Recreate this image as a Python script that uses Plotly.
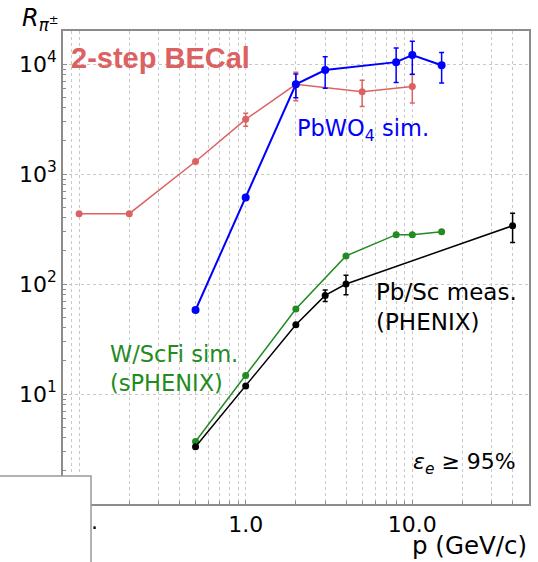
import plotly.graph_objects as go

# ---- data ----
p_becal = [0.1, 0.2, 0.5, 1.0, 2.0, 5.0, 10.0]
r_becal = [436, 436, 1300, 3140, 6530, 5600, 6230]
err_becal = [None, None, None, 430, 1900, 1500, 1800]

p_pbwo4 = [0.5, 1.0, 2.0, 3.0, 8.0, 10.0, 15.0]
r_pbwo4 = [58, 610, 6530, 8820, 10400, 12070, 9730]
err_pbwo4 = [None, None, 1600, 2800, 3600, 4000, 3000]

p_wscfi = [0.5, 1.0, 2.0, 4.0, 8.0, 10.0, 15.0]
r_wscfi = [3.7, 14.7, 59.3, 180, 281, 281, 299]

p_pbsc = [0.5, 1.0, 2.0, 3.0, 4.0, 40.0]
r_pbsc = [3.32, 11.8, 42.7, 78.8, 100, 339]
err_pbsc = [None, None, None, 9.6, 20, 100]

x_tickvals = [0.1, 1.0, 10.0]
x_ticktext = ["", "1.0", "10.0"]
y_tickvals = [1, 10, 100, 1000, 10000]
y_ticktext = ["10<sup>0</sup>", "10<sup>1</sup>", "10<sup>2</sup>", "10<sup>3</sup>", "10<sup>4</sup>"]

RED = "#dc6262"
BLUE = "#0000ff"
GREEN = "#228b22"
BLACK = "#000000"
FONT = "DejaVu Sans"

W, H = 538, 562
L, R, T, B = 63, 9, 31, 58
PW, PH = W - L - R, H - T - B


def px(x):
    return (x - L) / PW


def py(y):
    return (H - B - y) / PH


fig = go.Figure()


def add(xs, ys, errs, color, lw, ms):
    kw = {}
    if errs is not None:
        kw["error_y"] = dict(type="data", array=errs, visible=True, color=color,
                             thickness=1.5, width=2.5)
    fig.add_trace(go.Scatter(x=xs, y=ys, mode="lines+markers",
                             line=dict(color=color, width=lw),
                             marker=dict(color=color, size=ms, symbol="circle"),
                             showlegend=False, **kw))


add(p_becal, r_becal, err_becal, RED, 1.5, 7)
add(p_pbwo4, r_pbwo4, err_pbwo4, BLUE, 2, 8)
add(p_wscfi, r_wscfi, None, GREEN, 1.5, 7)
add(p_pbsc, r_pbsc, err_pbsc, BLACK, 1.5, 7)

minor_x = [0.08, 0.09] + [k * 0.1 for k in range(2, 10)] + list(range(2, 10)) + [20, 30, 40, 50]
minor_y = [k * 10 ** e for e in range(0, 5) for k in range(2, 10)]

AX = "#8c8c8c"
GRID = "#c8c8c8"

fig.update_xaxes(type="log", range=[-1.0966, 1.7005], tickmode="array",
                 tickvals=x_tickvals, ticktext=x_ticktext, automargin=False,
                 showline=True, mirror=True, linecolor=AX, linewidth=1.5,
                 ticks="inside", ticklen=4, tickcolor=AX,
                 showgrid=True, gridcolor=GRID, griddash="dot", gridwidth=1,
                 zeroline=False,
                 tickfont=dict(family=FONT, size=22, color="black"),
                 minor=dict(tickmode="array", tickvals=minor_x, ticks="inside",
                            ticklen=3, tickcolor=AX, showgrid=True,
                            gridcolor=GRID, griddash="dot", gridwidth=1))
fig.update_yaxes(type="log", range=[0, 4.3], tickmode="array",
                 tickvals=y_tickvals, ticktext=y_ticktext, automargin=False,
                 showline=True, mirror=True, linecolor=AX, linewidth=1.5,
                 ticks="inside", ticklen=4, tickcolor=AX,
                 showgrid=True, gridcolor=GRID, griddash="dot", gridwidth=1,
                 zeroline=False,
                 tickfont=dict(family=FONT, size=22, color="black"),
                 minor=dict(tickmode="array", tickvals=minor_y, ticks="inside",
                            ticklen=3, tickcolor=AX, showgrid=False))

ann = []


def text(t, x, y, color="black", size=22, xanchor="left", yanchor="middle", family=FONT):
    ann.append(dict(text=t, x=px(x), y=py(y), xref="paper", yref="paper",
                    xanchor=xanchor, yanchor=yanchor, showarrow=False,
                    align="left", font=dict(family=family, size=size, color=color)))


text("<b>2-step BECal</b>", 69, 58, RED, 29, family="Liberation Sans")
text("PbWO<sub>4</sub> sim.", 295, 130, BLUE, 22.5)
text("Pb/Sc meas.<br>(PHENIX)", 374, 307, BLACK, 23)
text("W/ScFi sim.<br>(sPHENIX)", 108, 368, GREEN, 22.5)
text("<i>ε</i><sub><i>e</i></sub> ≥ 95%", 411, 463, BLACK, 22)
text("p (GeV/c)", 529, 545, BLACK, 24.5, xanchor="right")
text("<i>R</i><sub><i>π</i><sup>±</sup></sub>", 20, 20, BLACK, 24)
text(".", 94, 521, BLACK, 22, xanchor="center")

fig.update_layout(
    width=W, height=H,
    margin=dict(l=L, r=R, t=T, b=B, pad=0, autoexpand=False),
    plot_bgcolor="white", paper_bgcolor="white",
    annotations=ann,
    shapes=[dict(type="rect", xref="paper", yref="paper",
                 x0=px(-3), x1=px(91), y0=py(H + 3), y1=py(476),
                 fillcolor="white", line=dict(color="#999999", width=1.5),
                 layer="above")],
)

fig.write_html("out.html", config={"displayModeBar": False},
               post_script="document.body.style.margin='0';document.body.style.overflow='hidden';")
